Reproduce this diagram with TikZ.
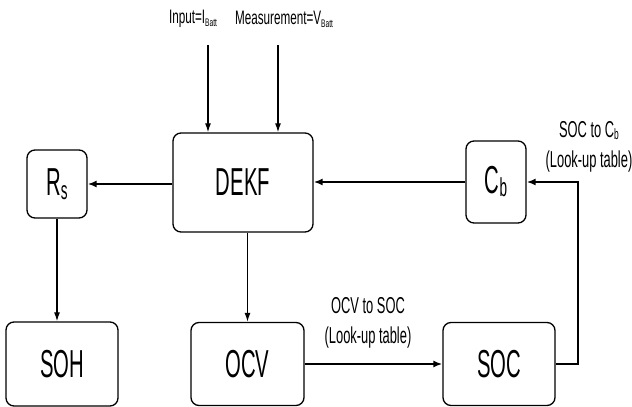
\documentclass[tikz,border=0pt]{standalone}
\usepackage{fontspec}
\setmainfont{Liberation Sans}
\newfontfamily\boxfont[FakeStretch=0.52]{Liberation Sans}
\newfontfamily\sidefont[FakeStretch=0.56]{Liberation Sans}
\newfontfamily\topfont[FakeStretch=0.6]{Liberation Sans}
\usetikzlibrary{arrows.meta}
\begin{document}
\begin{tikzpicture}[x=1pt,y=1pt,
  box/.style={draw, line width=1.3pt, rounded corners=8pt, inner sep=0pt,
    font=\boxfont\fontsize{39}{40}\selectfont},
  thinarrow/.style={-{Latex[length=9pt,width=6pt]}, line width=1.3pt},
  thickarrow/.style={-{Latex[length=9pt,width=7pt]}, line width=2.4pt},
  sidelbl/.style={font=\sidefont\fontsize{23}{30}\selectfont, align=center, inner sep=0pt},
  toplbl/.style={font=\topfont\fontsize{19.5}{20}\selectfont, inner sep=0pt},
]
\useasboundingbox (0,0) rectangle (632,407);

\node[box, minimum width=140pt, minimum height=99pt] (dekf) at (243,224.5) {DEKF};
\node[box, minimum width=60pt, minimum height=68pt] (rs) at (57,223) {R\raisebox{-4pt}{\fontsize{26}{26}\selectfont s}};
\node[box, minimum width=60pt, minimum height=82pt] (cb) at (496,225) {C\raisebox{-3pt}{\fontsize{26}{26}\selectfont b}};
\node[box, minimum width=112pt, minimum height=84pt] (soh) at (62,43) {SOH};
\node[box, minimum width=113pt, minimum height=83pt] (ocv) at (247.5,43) {OCV};
\node[box, minimum width=112pt, minimum height=83pt] (soc) at (499,43) {SOC};

\node[toplbl] (inlbl) at (193,388) {Input=I\raisebox{-3pt}{\fontsize{11}{11}\selectfont Batt}};
\node[toplbl] (melbl) at (284,388) {Measurement=V\raisebox{-3pt}{\fontsize{11}{11}\selectfont Batt}};

\coordinate (in1) at (208,362);
\coordinate (in2) at (278,362);
\draw[thinarrow] (in1) -- (in1 |- dekf.north);
\draw[thinarrow] (in2) -- (in2 |- dekf.north);

\draw[thickarrow] (dekf.west |- rs.east) -- (rs.east);
\draw[thickarrow] (cb.west) -- (dekf.east |- cb.west);
\draw[thinarrow] (rs.south) -- (soh.north -| rs.south);
\coordinate (dk) at (247.5,0);
\draw[thinarrow] (dekf.south -| dk) -- (ocv.north);
\draw[thickarrow] (ocv.east) -- (soc.west);
\coordinate (corner) at (578,0);
\draw[thickarrow] (soc.east) -- (soc.east -| corner) -- (cb.east -| corner) -- (cb.east);

\node[sidelbl] (l1) at (368,84) {OCV to SOC\\(Look-up table)};
\node[sidelbl] (l2) at (589,260) {SOC to C\raisebox{-2pt}{\fontsize{15}{15}\selectfont b}\\(Look-up table)};
\end{tikzpicture}
\end{document}
